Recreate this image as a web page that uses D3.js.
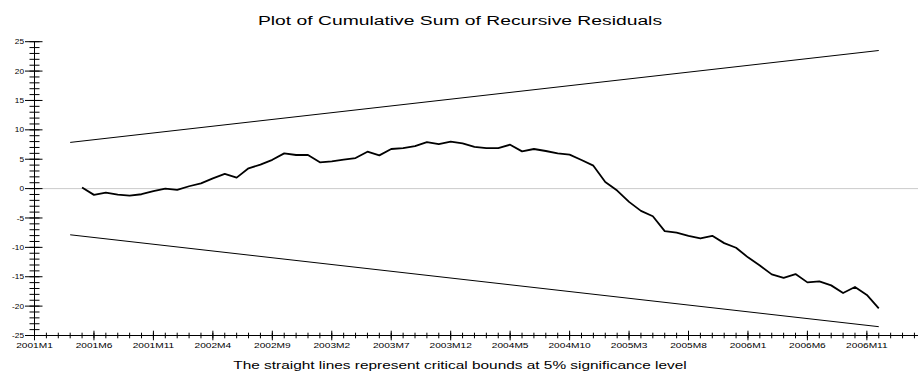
<!DOCTYPE html>
<html>
<head>
<meta charset="utf-8">
<script src="https://cdn.jsdelivr.net/npm/d3@7"></script>
<style>
  html, body { margin: 0; padding: 0; background: #fff; }
  svg { display: block; }
  text { font-family: "Liberation Sans", Arial, sans-serif; fill: #000; }
</style>
</head>
<body>
<svg id="chart" width="918" height="377"></svg>
<script>
// ---- data ----
const title = "Plot of Cumulative Sum of Recursive Residuals";
const footer = "The straight lines represent critical bounds at 5% significance level";
// month index 0 = 2001M1
const firstMonth = 4; // 2001M5
const cusum = [
  0.2, -1.07, -0.68, -1.02, -1.19, -0.96, -0.45, 0.0, -0.23, 0.4,
  0.9, 1.75, 2.49, 1.87, 3.45, 4.07, 4.9, 6.0, 5.72, 5.72,
  4.47, 4.64, 4.92, 5.2, 6.28, 5.66, 6.74, 6.9, 7.24, 7.92,
  7.58, 7.98, 7.7, 7.1, 6.9, 6.9, 7.47, 6.34, 6.74, 6.4,
  6.0, 5.77, 4.87, 3.9, 1.13, -0.34, -2.26, -3.79, -4.7, -7.24,
  -7.5, -8.03, -8.49, -8.03, -9.28, -10.07, -11.7, -13.1, -14.6, -15.2,
  -14.55, -15.96, -15.8, -16.47, -17.77, -16.75, -18.1, -20.37
];
const boundMonths = [3, 71];
const upperBound = [7.86, 23.5];
const lowerBound = [-7.86, -23.5];
const xTickLabels = ["2001M1","2001M6","2001M11","2002M4","2002M9","2003M2","2003M7",
  "2003M12","2004M5","2004M10","2005M3","2005M8","2006M1","2006M6","2006M11"];
const yTickValues = [-25, -20, -15, -10, -5, 0, 5, 10, 15, 20, 25];

// ---- layout ----
const svg = d3.select("#chart");
const x = d3.scaleLinear().domain([0, 74.3]).range([34.5, 918]);
const y = d3.scaleLinear().domain([-25, 25]).range([335.5, 41.7]);
const axisY = y(-25);
const axisX = x(0);

// zero line
svg.append("line")
  .attr("x1", axisX).attr("x2", 918)
  .attr("y1", y(0)).attr("y2", y(0))
  .attr("stroke", "#8a8a8a").attr("stroke-width", 0.9)
  .attr("stroke-dasharray", "1,1");

// bounds
const boundLine = d3.line().x(d => x(d[0])).y(d => y(d[1]));
svg.append("path")
  .attr("d", boundLine(boundMonths.map((m, i) => [m, upperBound[i]])))
  .attr("fill", "none").attr("stroke", "#000").attr("stroke-width", 1);
svg.append("path")
  .attr("d", boundLine(boundMonths.map((m, i) => [m, lowerBound[i]])))
  .attr("fill", "none").attr("stroke", "#000").attr("stroke-width", 1);

// cusum line
svg.append("path")
  .attr("d", boundLine(cusum.map((v, i) => [firstMonth + i, v])))
  .attr("fill", "none").attr("stroke", "#000").attr("stroke-width", 1.8)
  .attr("stroke-linejoin", "round");

// y axis
svg.append("line").attr("x1", axisX).attr("x2", axisX)
  .attr("y1", y(25)).attr("y2", axisY)
  .attr("stroke", "#000").attr("stroke-width", 1);
const yMinor = d3.range(-25, 26, 1);
svg.selectAll(".yminor").data(yMinor).enter().append("line")
  .attr("x1", axisX - 5).attr("x2", axisX + 5)
  .attr("y1", d => y(d)).attr("y2", d => y(d))
  .attr("stroke", "#000").attr("stroke-width", 1);
svg.selectAll(".ymajor").data(yTickValues).enter().append("line")
  .attr("x1", axisX - 9.5).attr("x2", axisX + 8)
  .attr("y1", d => y(d)).attr("y2", d => y(d))
  .attr("stroke", "#000").attr("stroke-width", 1);
svg.selectAll(".ylab").data(yTickValues).enter().append("text")
  .attr("transform", d => `translate(${axisX - 10.5},${y(d) + 2.6}) scale(1.15,1)`)
  .attr("text-anchor", "end")
  .style("font-size", "7.2px")
  .text(d => d);

// x axis
svg.append("line").attr("x1", axisX).attr("x2", 918)
  .attr("y1", axisY).attr("y2", axisY)
  .attr("stroke", "#000").attr("stroke-width", 1);
const xMinor = d3.range(0, 75, 1);
svg.selectAll(".xminor").data(xMinor).enter().append("line")
  .attr("x1", d => x(d)).attr("x2", d => x(d))
  .attr("y1", axisY - 2.8).attr("y2", axisY + 2.8)
  .attr("stroke", "#000").attr("stroke-width", 1);
const xMajor = xTickLabels.map((l, i) => i * 5);
svg.selectAll(".xmajor").data(xMajor).enter().append("line")
  .attr("x1", d => x(d)).attr("x2", d => x(d))
  .attr("y1", axisY - 4.8).attr("y2", axisY + 4.8)
  .attr("stroke", "#000").attr("stroke-width", 1);
svg.selectAll(".xlab").data(xTickLabels).enter().append("text")
  .attr("transform", (d, i) => `translate(${x(i * 5)},${axisY + 12}) scale(1.45,1)`)
  .attr("text-anchor", "middle")
  .style("font-size", "7px")
  .text(d => d);

// title & footer
svg.append("text")
  .attr("transform", "translate(460,25) scale(1.43,1)")
  .attr("text-anchor", "middle")
  .style("font-size", "13.5px")
  .text(title);
svg.append("text")
  .attr("transform", "translate(460,368.5) scale(1.4,1)")
  .attr("text-anchor", "middle")
  .style("font-size", "11px")
  .text(footer);
</script>
</body>
</html>
